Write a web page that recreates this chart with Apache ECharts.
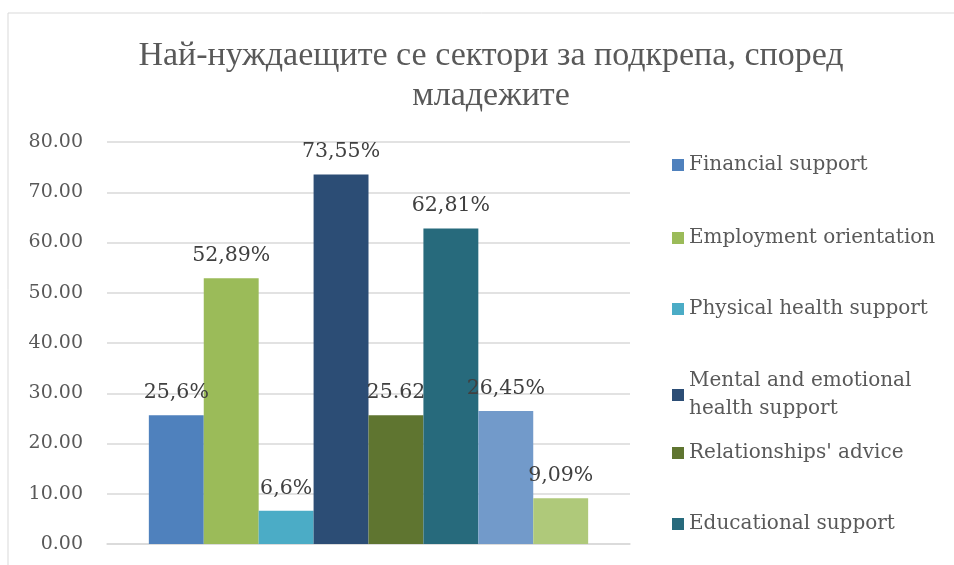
<!DOCTYPE html>
<html>
<head>
    <meta charset="utf-8"/>
    <title>ECharts</title>
    <script src="https://cdn.jsdelivr.net/npm/echarts@6.0.0/dist/echarts.min.js"></script>
</head>
<body style="margin:0;background:#fff">
<div id="main" style="width: 954px;height:565px;"></div>
<script type="text/javascript">
    var titleText = 'Най-нуждаещите се сектори за подкрепа, според\nмладежите';
    var seriesNames = [
        'Financial support',
        'Employment orientation',
        'Physical health support',
        'Mental and emotional health support',
        "Relationships' advice",
        'Educational support',
        'Other 1',
        'Other 2'
    ];
    var values = [25.6, 52.89, 6.6, 73.55, 25.62, 62.81, 26.45, 9.09];
    var labels = ['25,6%', '52,89%', '6,6%', '73,55%', '25.62', '62,81%', '26,45%', '9,09%'];
    var colors = ['#4F81BD', '#9BBB59', '#4BACC6', '#2C4D75', '#5F7530', '#276A7C', '#729ACA', '#AFC97A'];
    var legendTops = [160, 233, 304, 390, 448, 519];

    var font = 'DejaVu Serif';
    var textColor = '#595959';

    var series = seriesNames.map(function (name, i) {
        return {
            name: name,
            type: 'bar',
            data: [values[i]],
            barGap: '0%',
            barCategoryGap: '16%',
            itemStyle: { color: colors[i] },
            label: {
                show: true,
                position: 'top',
                distance: 12,
                formatter: labels[i],
                fontFamily: font,
                fontSize: 20.5,
                color: '#404040'
            }
        };
    });

    // one legend per entry so each row sits where it does in the original
    var legends = legendTops.map(function (top, i) {
        return {
            data: [seriesNames[i]],
            left: 667,
            top: top - (i === 3 ? 28 : 14),
            itemWidth: 12,
            itemHeight: 12,
            itemGap: 6,
            icon: 'rect',
            selectedMode: false,
            formatter: function (n) {
                return n === 'Mental and emotional health support' ? 'Mental and emotional\nhealth support' : n;
            },
            textStyle: { fontFamily: font, fontSize: 20, color: textColor, lineHeight: 28 }
        };
    });

    var option = {
        animation: false,
        title: {
            text: titleText,
            left: 486,
            textAlign: 'center',
            top: 31,
            textStyle: { fontFamily: 'Liberation Serif', fontSize: 34, fontWeight: 'normal', color: textColor, lineHeight: 40 }
        },
        graphic: [{
            type: 'rect',
            shape: { x: 8, y: 13, width: 1000, height: 600 },
            style: { fill: 'none', stroke: '#d9d9d9', lineWidth: 1 },
            silent: true
        }],
        legend: legends,
        grid: { left: 107, right: 324, top: 142, bottom: 21 },
        xAxis: {
            type: 'category',
            data: [''],
            axisTick: { show: false },
            axisLabel: { show: false },
            axisLine: { lineStyle: { color: '#d9d9d9', width: 1.5 } }
        },
        yAxis: {
            type: 'value',
            min: 0,
            max: 80,
            interval: 10,
            axisLabel: {
                formatter: function (v) { return v.toFixed(2); },
                fontFamily: font,
                fontSize: 19,
                color: textColor,
                margin: 24
            },
            splitLine: { lineStyle: { color: '#d9d9d9', width: 1.5 } }
        },
        series: series
    };
    var chart = echarts.init(document.getElementById('main'));
    chart.setOption(option);
</script>
</body>
</html>
